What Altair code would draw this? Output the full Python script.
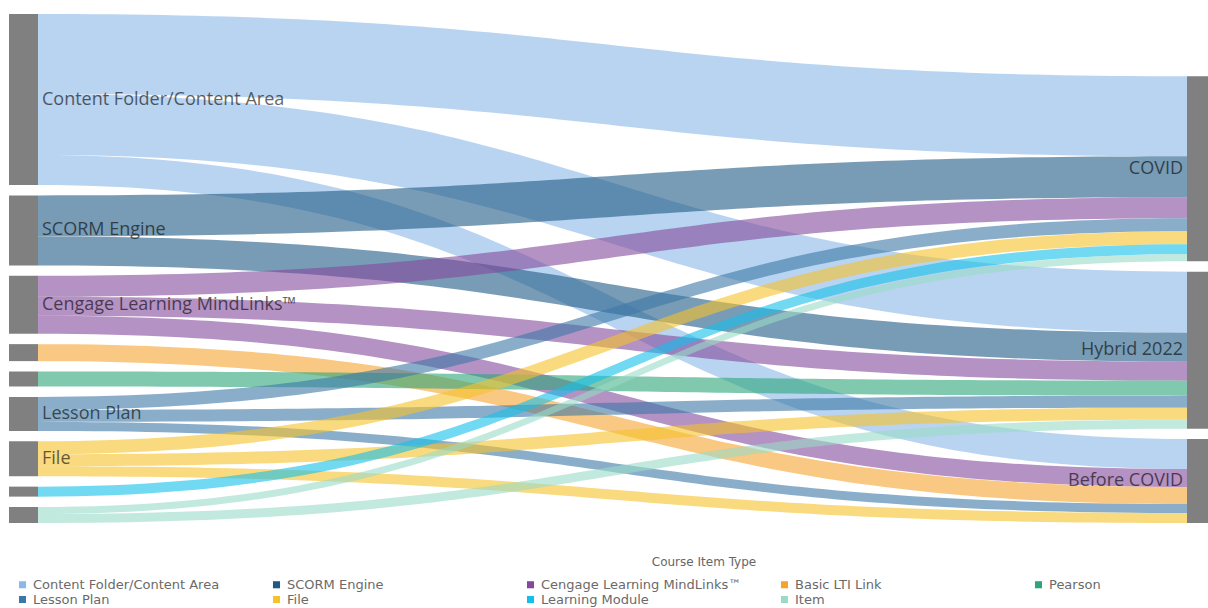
import altair as alt
import pandas as pd
import numpy as np

# ---- data ----
sources = ["Content Folder/Content Area", "SCORM Engine", "Cengage Learning MindLinks™",
           "Basic LTI Link", "Pearson", "Lesson Plan", "File", "Learning Module", "Item"]
targets = ["COVID", "Hybrid 2022", "Before COVID"]
colors = ["#8AB8E8", "#1F5A86", "#834A9C", "#F5A32F", "#2CA579",
          "#3C78A6", "#F5C22A", "#14C0EA", "#9ADAC6"]

link_source = ["Content Folder/Content Area", "Content Folder/Content Area", "Content Folder/Content Area",
               "SCORM Engine", "SCORM Engine",
               "Cengage Learning MindLinks™", "Cengage Learning MindLinks™", "Cengage Learning MindLinks™",
               "Basic LTI Link", "Pearson",
               "Lesson Plan", "Lesson Plan", "Lesson Plan",
               "File", "File", "File",
               "Learning Module",
               "Item", "Item"]
link_target = ["COVID", "Hybrid 2022", "Before COVID",
               "COVID", "Hybrid 2022",
               "COVID", "Hybrid 2022", "Before COVID",
               "Before COVID", "Hybrid 2022",
               "COVID", "Hybrid 2022", "Before COVID",
               "COVID", "Hybrid 2022", "Before COVID",
               "COVID",
               "COVID", "Hybrid 2022"]
link_value = [80, 61, 30,
              41, 29,
              21, 19, 18,
              17, 15,
              13, 12, 9,
              13, 12, 10,
              10,
              7, 9]

# ---- layout (sankey computed from values) ----
W, H = 1199, 509
NW_L, NW_R = 29, 21
n_left = len(sources)
total = sum(link_value)
GAP = (H - total) / (n_left - 1)

src_tot = {s: 0 for s in sources}
tgt_tot = {t: 0 for t in targets}
for s, t, v in zip(link_source, link_target, link_value):
    src_tot[s] += v
    tgt_tot[t] += v

node_rows = []
ypos = {}
y = 0.0
for s in sources:
    ypos[s] = y
    node_rows.append(dict(name=s, x=0, x2=NW_L, y=y, y2=y + src_tot[s], side="L"))
    y += src_tot[s] + GAP
right_total = sum(tgt_tot.values()) + GAP * (len(targets) - 1)
y = H - right_total
for t in targets:
    ypos[t] = y
    node_rows.append(dict(name=t, x=W - NW_R, x2=W, y=y, y2=y + tgt_tot[t], side="R"))
    y += tgt_tot[t] + GAP
nodes = pd.DataFrame(node_rows)

# offsets: at source sorted by target order, at target by source order
links = list(zip(link_source, link_target, link_value))
src_off = {s: ypos[s] for s in sources}
tgt_off = {t: ypos[t] for t in targets}
ys0, yt0 = {}, {}
for i, (s, t, v) in sorted(enumerate(links), key=lambda e: (sources.index(e[1][0]), targets.index(e[1][1]))):
    ys0[i] = src_off[s]; src_off[s] += v
for i, (s, t, v) in sorted(enumerate(links), key=lambda e: (targets.index(e[1][1]), sources.index(e[1][0]))):
    yt0[i] = tgt_off[t]; tgt_off[t] += v

x0, x1 = NW_L, W - NW_R
xm = (x0 + x1) / 2
ts = np.linspace(0, 1, 90)
rows = []
for i, (s, t, v) in enumerate(links):
    for tt in ts:
        bx = (1 - tt) ** 3 * x0 + 3 * (1 - tt) ** 2 * tt * xm + 3 * (1 - tt) * tt ** 2 * xm + tt ** 3 * x1
        f = 3 * tt ** 2 - 2 * tt ** 3
        yy = ys0[i] + (yt0[i] - ys0[i]) * f
        rows.append(dict(link=i, source=s, x=bx, y=yy, y2=yy + v))
ldf = pd.DataFrame(rows)

xs = alt.Scale(domain=[0, W], nice=False, zero=False)
ys = alt.Scale(domain=[0, H], reverse=True, nice=False, zero=False)

link_layer = alt.Chart(ldf).mark_area(opacity=0.6, interpolate="linear").encode(
    x=alt.X("x:Q", scale=xs, axis=None),
    y=alt.Y("y:Q", scale=ys, axis=None),
    y2="y2:Q",
    detail="link:N",
    color=alt.Color("source:N", scale=alt.Scale(domain=sources, range=colors),
                    legend=alt.Legend(orient="none", legendX=7, legendY=564, direction="horizontal",
                                      columns=5, title=None, symbolType="square", symbolSize=50,
                                      symbolOpacity=1, symbolStrokeWidth=0, labelFont="DejaVu Sans",
                                      labelFontSize=13, labelColor="#6a6a6a", columnPadding=36,
                                      rowPadding=1, gridAlign="all", labelLimit=300, labelOffset=4)),
)

node_layer = alt.Chart(nodes).mark_rect(color="#808080").encode(
    x="x:Q", x2="x2:Q", y="y:Q", y2="y2:Q"
)

lab = nodes.copy()
lab["cy"] = (lab["y"] + lab["y2"]) / 2
lab["h"] = lab["y2"] - lab["y"]
lab = lab[lab["h"] >= 30]
lab_l = lab[lab["side"] == "L"].copy()
lab_l["tx"] = lab_l["x2"] + 4
lab_r = lab[lab["side"] == "R"].copy()
lab_r["tx"] = lab_r["x"] - 4

text_l = alt.Chart(lab_l).mark_text(align="left", baseline="middle", font="Open Sans",
                                    fontSize=18, color="#000000", opacity=0.6).encode(
    x="tx:Q", y="cy:Q", text="name:N")
text_r = alt.Chart(lab_r).mark_text(align="right", baseline="middle", font="Open Sans",
                                    fontSize=18, color="#000000", opacity=0.6).encode(
    x="tx:Q", y="cy:Q", text="name:N")

legend_title = alt.Chart(pd.DataFrame({"t": ["Course Item Type"]})).mark_text(
    font="DejaVu Sans", fontSize=12, color="#666666", align="center", baseline="middle"
).encode(x=alt.value(695), y=alt.value(548), text="t:N")

chart = alt.layer(link_layer, node_layer, text_l, text_r, legend_title).properties(
    width=W, height=H,
    padding={"left": 9, "top": 14, "right": 0, "bottom": 0},
).configure_view(stroke=None)

chart.save("out.html", embed_options={"renderer": "svg", "actions": False})
